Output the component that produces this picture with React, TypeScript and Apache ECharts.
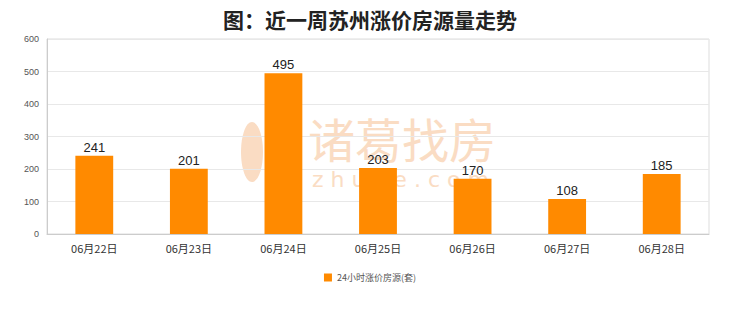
import React, { useEffect, useRef } from "react";
import * as echarts from "echarts";

const categories = ["06月22日", "06月23日", "06月24日", "06月25日", "06月26日", "06月27日", "06月28日"];
const values = [241, 201, 495, 203, 170, 108, 185];
const seriesName = "24小时涨价房源(套)";
const titleText = "图：近一周苏州涨价房源量走势";

export default function App() {
  const ref = useRef<HTMLDivElement>(null);
  useEffect(() => {
    const chart = echarts.init(ref.current!, null, { renderer: "svg" });
    chart.setOption({
      animation: false,
      backgroundColor: "#fff",
      title: {
        text: titleText,
        left: "center",
        top: 3,
        textStyle: { fontSize: 21, fontWeight: "bold", color: "#222", fontFamily: "Noto Sans CJK SC" },
      },
      graphic: [
        {
          type: "text",
          left: 308,
          top: 114,
          z: -10,
          silent: true,
          style: { text: "诸葛找房", fontSize: 47, fill: "#fadcc3", fontFamily: "Noto Sans CJK SC" },
        },
        {
          type: "text",
          left: 312,
          top: 168,
          z: -10,
          silent: true,
          style: { text: "z h u g e . c o m", fontSize: 22, fill: "#fadcc3", fontFamily: "DejaVu Sans" },
        },
        {
          type: "ellipse",
          z: -10,
          silent: true,
          shape: { cx: 252, cy: 152, rx: 11, ry: 30 },
          style: { fill: "#fadcc3" },
        },
      ],
      legend: {
        bottom: 25,
        left: "center",
        itemWidth: 8,
        itemHeight: 8,
        icon: "rect",
        textStyle: { fontSize: 9, color: "#555", fontFamily: "Noto Sans CJK SC" },
        data: [seriesName],
      },
      grid: {
        left: 47,
        right: 31,
        top: 39,
        bottom: 78,
        show: true,
        borderColor: "#ddd",
        borderWidth: 1,
        backgroundColor: "transparent",
      },
      xAxis: {
        type: "category",
        data: categories,
        axisLine: { lineStyle: { color: "#ccc" } },
        axisTick: { show: false },
        axisLabel: { fontSize: 11, color: "#333", margin: 8, fontFamily: "Noto Sans CJK SC" },
      },
      yAxis: {
        type: "value",
        min: 0,
        max: 600,
        interval: 100,
        axisLine: { show: true, lineStyle: { color: "#ccc" } },
        axisTick: { show: false },
        splitLine: { lineStyle: { color: "#e8e8e8" } },
        axisLabel: { fontSize: 9, color: "#555", margin: 8 },
      },
      series: [
        {
          name: seriesName,
          type: "bar",
          data: values,
          barWidth: "40%",
          itemStyle: { color: "#ff8a00" },
          label: { show: true, position: "top", fontSize: 13, color: "#222", distance: 2 },
        },
      ],
    });
    return () => chart.dispose();
  }, []);
  return <div ref={ref} style={{ position: "fixed", left: 0, top: 0, width: 740, height: 312 }} />;
}
